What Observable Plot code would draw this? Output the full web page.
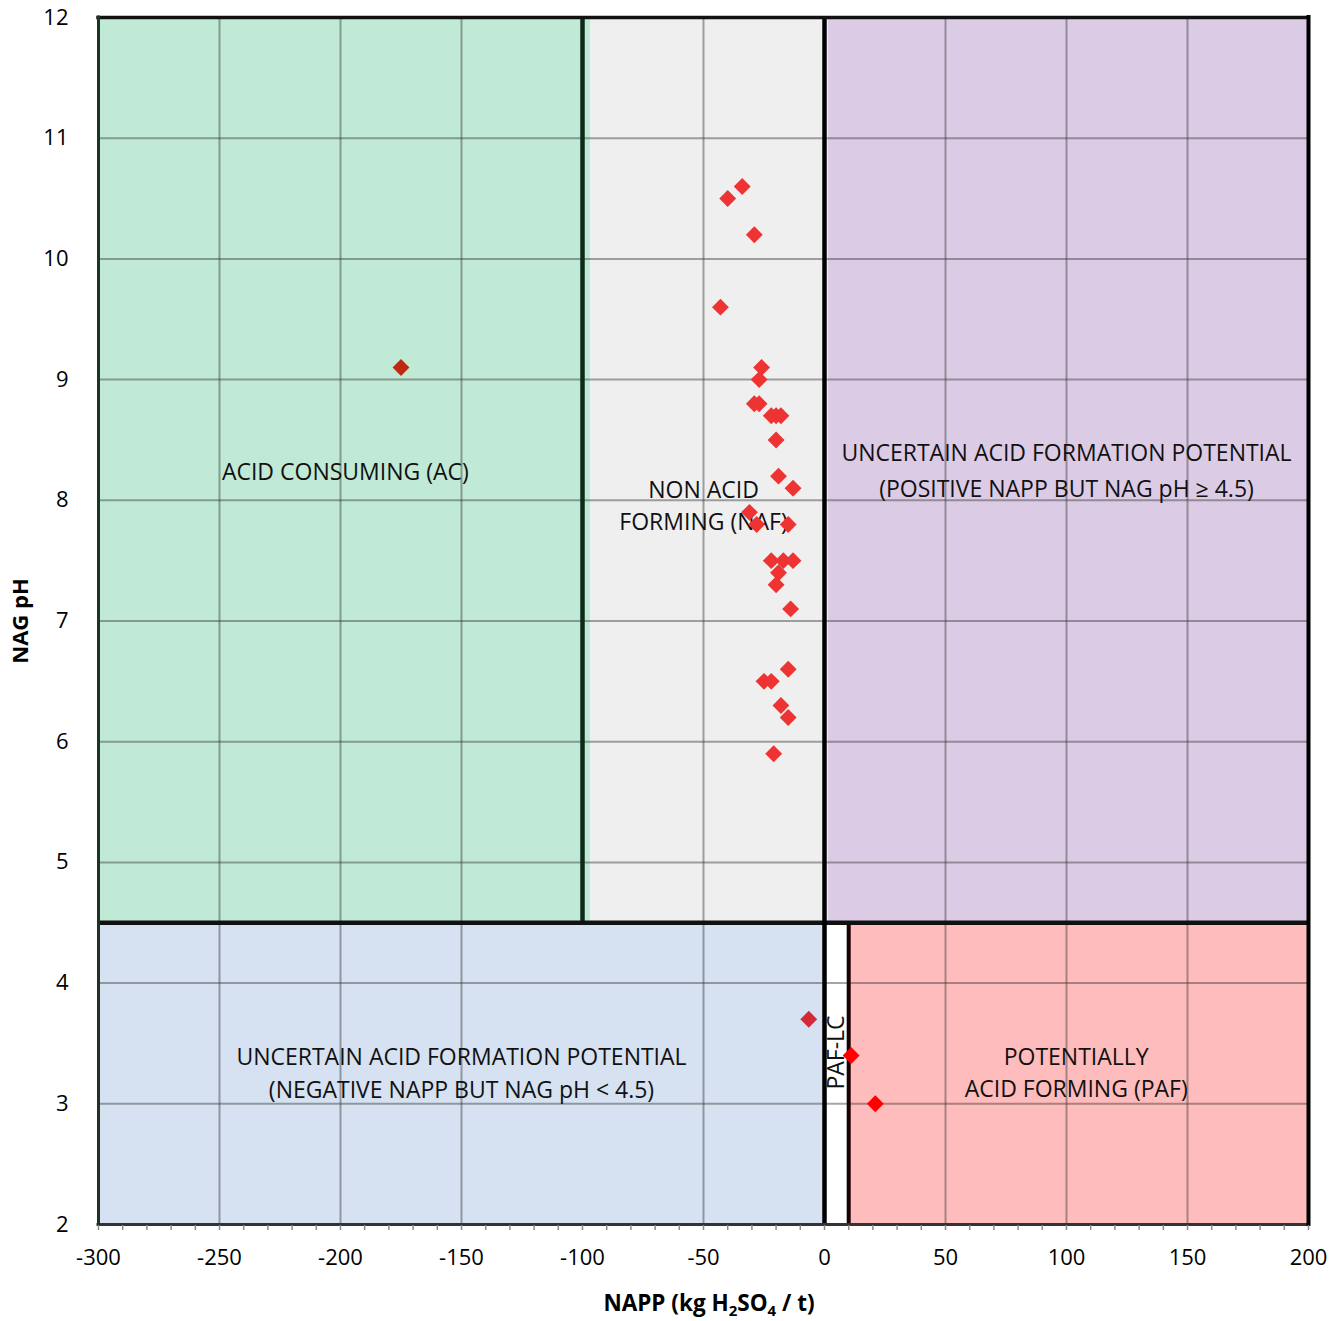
<!DOCTYPE html>
<html>
<head>
<meta charset="utf-8">
<script src="https://cdn.jsdelivr.net/npm/d3@7"></script>
<script src="https://cdn.jsdelivr.net/npm/@observablehq/plot@0.6"></script>
<style>
  body { margin: 0; background: #fff; }
  #chart svg { display: block; }
</style>
</head>
<body>
<div id="chart"></div>
<script>
// ---------- data ----------
const xTicks = [-300, -250, -200, -150, -100, -50, 0, 50, 100, 150, 200];
const yTicks = [2, 3, 4, 5, 6, 7, 8, 9, 10, 11, 12];
const xGrid = [-250, -200, -150, -50, 50, 100, 150];
const yGrid = [3, 4, 5, 6, 7, 8, 9, 10, 11];
const xMinorTicks = d3.range(-300, 201, 10);

// classification regions (NAPP bounds, NAG pH bounds)
const regionNames = ["AC", "NAF", "UNCERTAIN_POS", "UNCERTAIN_NEG", "PAF-LC", "PAF"];
const regionX1 = [-300, -96.5, 1.5, -300, 0, 10];
const regionX2 = [-96.5, 0, 200, 0, 10, 200];
const regionY1 = [4.5, 4.5, 4.5, 2, 2, 2];
const regionY2 = [12, 12, 12, 4.5, 4.5, 4.5];

// samples
const samplesNAPP = [-34, -40, -29, -43, -26, -27, -29, -27, -22, -20, -18, -20, -19, -13, -31, -28, -15, -22, -17, -13, -19, -20, -14, -15, -25, -22, -18, -15, -21];
const samplesNAG  = [10.6, 10.5, 10.2, 9.6, 9.1, 9.0, 8.8, 8.8, 8.7, 8.7, 8.7, 8.5, 8.2, 8.1, 7.9, 7.8, 7.8, 7.5, 7.5, 7.5, 7.4, 7.3, 7.1, 6.6, 6.5, 6.5, 6.3, 6.2, 5.9];
const acSampleNAPP = [-175];
const acSampleNAG = [9.1];
const uncSampleNAPP = [-6.5];
const uncSampleNAG = [3.7];
const pafSampleNAPP = [11, 21];
const pafSampleNAG = [3.4, 3.0];

// region labels
const labelText = ["ACID CONSUMING (AC)", "NON ACID\nFORMING (NAF)", "UNCERTAIN ACID FORMATION POTENTIAL\n(NEGATIVE NAPP BUT NAG pH < 4.5)", "POTENTIALLY\nACID FORMING (PAF)"];
const labelX = [-198, -50, -150, 104];
const labelY = [8.255, 7.97, 3.27, 3.275];
const labelPosText = ["UNCERTAIN ACID FORMATION POTENTIAL\n(POSITIVE NAPP BUT NAG pH \u2265 4.5)"];
const labelPosX = [100];
const labelPosY = [8.27];

// ---------- build ----------
const regionFill = {"AC": "#c0ead5", "NAF": "#efefef", "UNCERTAIN_POS": "#dccbe5", "UNCERTAIN_NEG": "#d6e2f2", "PAF-LC": "#ffffff", "PAF": "#ffbcbc"};
const regions = regionNames.map((n, i) => ({name: n, x1: regionX1[i], x2: regionX2[i], y1: regionY1[i], y2: regionY2[i]}));
const samples = samplesNAPP.map((x, i) => ({x, y: samplesNAG[i]}));
const acSamples = acSampleNAPP.map((x, i) => ({x, y: acSampleNAG[i]}));
const uncSamples = uncSampleNAPP.map((x, i) => ({x, y: uncSampleNAG[i]}));
const pafSamples = pafSampleNAPP.map((x, i) => ({x, y: pafSampleNAG[i]}));
const labels = labelText.map((t, i) => ({t, x: labelX[i], y: labelY[i]}));
const labelsPos = labelPosText.map((t, i) => ({t, x: labelPosX[i], y: labelPosY[i]}));

const font = "'Open Sans', sans-serif";
const gridStroke = "#3a3a3a";
const dotR = 7.6;

const chart = Plot.plot({
  width: 1342,
  height: 1321,
  marginLeft: 98,
  marginRight: 34,
  marginTop: 17,
  marginBottom: 97,
  style: {fontFamily: font, color: "#000", background: "#fff"},
  x: {domain: [-300, 200], label: null},
  y: {domain: [2, 12], label: null},
  marks: [
    Plot.rect(regions, {x1: "x1", x2: "x2", y1: "y1", y2: "y2", fill: d => regionFill[d.name]}),
    Plot.ruleX(xGrid, {stroke: gridStroke, strokeOpacity: 0.45, strokeWidth: 2}),
    Plot.ruleY(yGrid, {stroke: gridStroke, strokeOpacity: 0.45, strokeWidth: 2}),
    // region borders
    Plot.ruleX([-100], {y1: 4.5, y2: 12, stroke: "#0d2b18", strokeWidth: 4.5}),
    Plot.ruleX([10], {y1: 2, y2: 4.5, stroke: "#1a0000", strokeWidth: 4}),
    Plot.ruleY([4.5], {stroke: "#111", strokeWidth: 4.5}),
    Plot.ruleX([0], {stroke: "#000", strokeWidth: 4.5}),
    Plot.ruleY([12], {stroke: "#111", strokeWidth: 3.5, strokeLinecap: "square"}),
    Plot.ruleY([2], {stroke: "#333", strokeWidth: 3, strokeLinecap: "square"}),
    Plot.ruleX([-300], {stroke: "#1c3326", strokeWidth: 3, strokeLinecap: "square"}),
    Plot.ruleX([200], {stroke: "#000", strokeWidth: 4, strokeLinecap: "square"}),
    // axes
    Plot.axisX(xMinorTicks, {tickSize: 5, tickFormat: () => "", stroke: "#8a8a8a", strokeWidth: 1.5, label: null, dy: 1}),
    Plot.axisX(xTicks, {tickSize: 0, tickPadding: 25, fontSize: 22, label: null, tickFormat: d => String(d)}),
    Plot.axisY(yTicks, {tickSize: 0, tickPadding: 30, textAnchor: "end", fontSize: 22, label: null, tickFormat: d => String(d)}),
    // labels
    Plot.text(labels, {x: "x", y: "y", text: "t", fontSize: 23, lineHeight: 1.4, fill: "#111"}),
    Plot.text(labelsPos, {x: "x", y: "y", text: "t", fontSize: 23, lineHeight: 1.57, fill: "#111"}),
    Plot.text(["PAF-LC"], {x: 5, y: 3.425, rotate: -90, fontSize: 23, fill: "#111"}),
    Plot.text(["NAG pH"], {frameAnchor: "left", textAnchor: "middle", dx: -78, rotate: -90, fontSize: 22, fontWeight: "bold", fill: "#000"}),
    // samples
    Plot.dot(samples, {x: "x", y: "y", symbol: "diamond2", r: dotR, fill: "#ee3333", stroke: "none"}),
    Plot.dot(acSamples, {x: "x", y: "y", symbol: "diamond2", r: dotR, fill: "#c0280f", stroke: "none"}),
    Plot.dot(uncSamples, {x: "x", y: "y", symbol: "diamond2", r: dotR, fill: "#d62838", stroke: "none"}),
    Plot.dot(pafSamples, {x: "x", y: "y", symbol: "diamond2", r: dotR, fill: "#ff0000", stroke: "none"})
  ]
});

// x-axis title with subscripts
const svg = d3.select(chart);
const t = svg.append("text")
  .attr("x", 709).attr("y", 1311)
  .attr("text-anchor", "middle")
  .attr("font-family", font).attr("font-size", 22.5).attr("font-weight", "bold").attr("fill", "#000");
t.append("tspan").text("NAPP (kg H");
t.append("tspan").attr("font-size", 15).attr("dy", 5).text("2");
t.append("tspan").attr("dy", -5).text("SO");
t.append("tspan").attr("font-size", 15).attr("dy", 5).text("4");
t.append("tspan").attr("dy", -5).text(" / t)");

document.getElementById("chart").appendChild(chart);
</script>
</body>
</html>
